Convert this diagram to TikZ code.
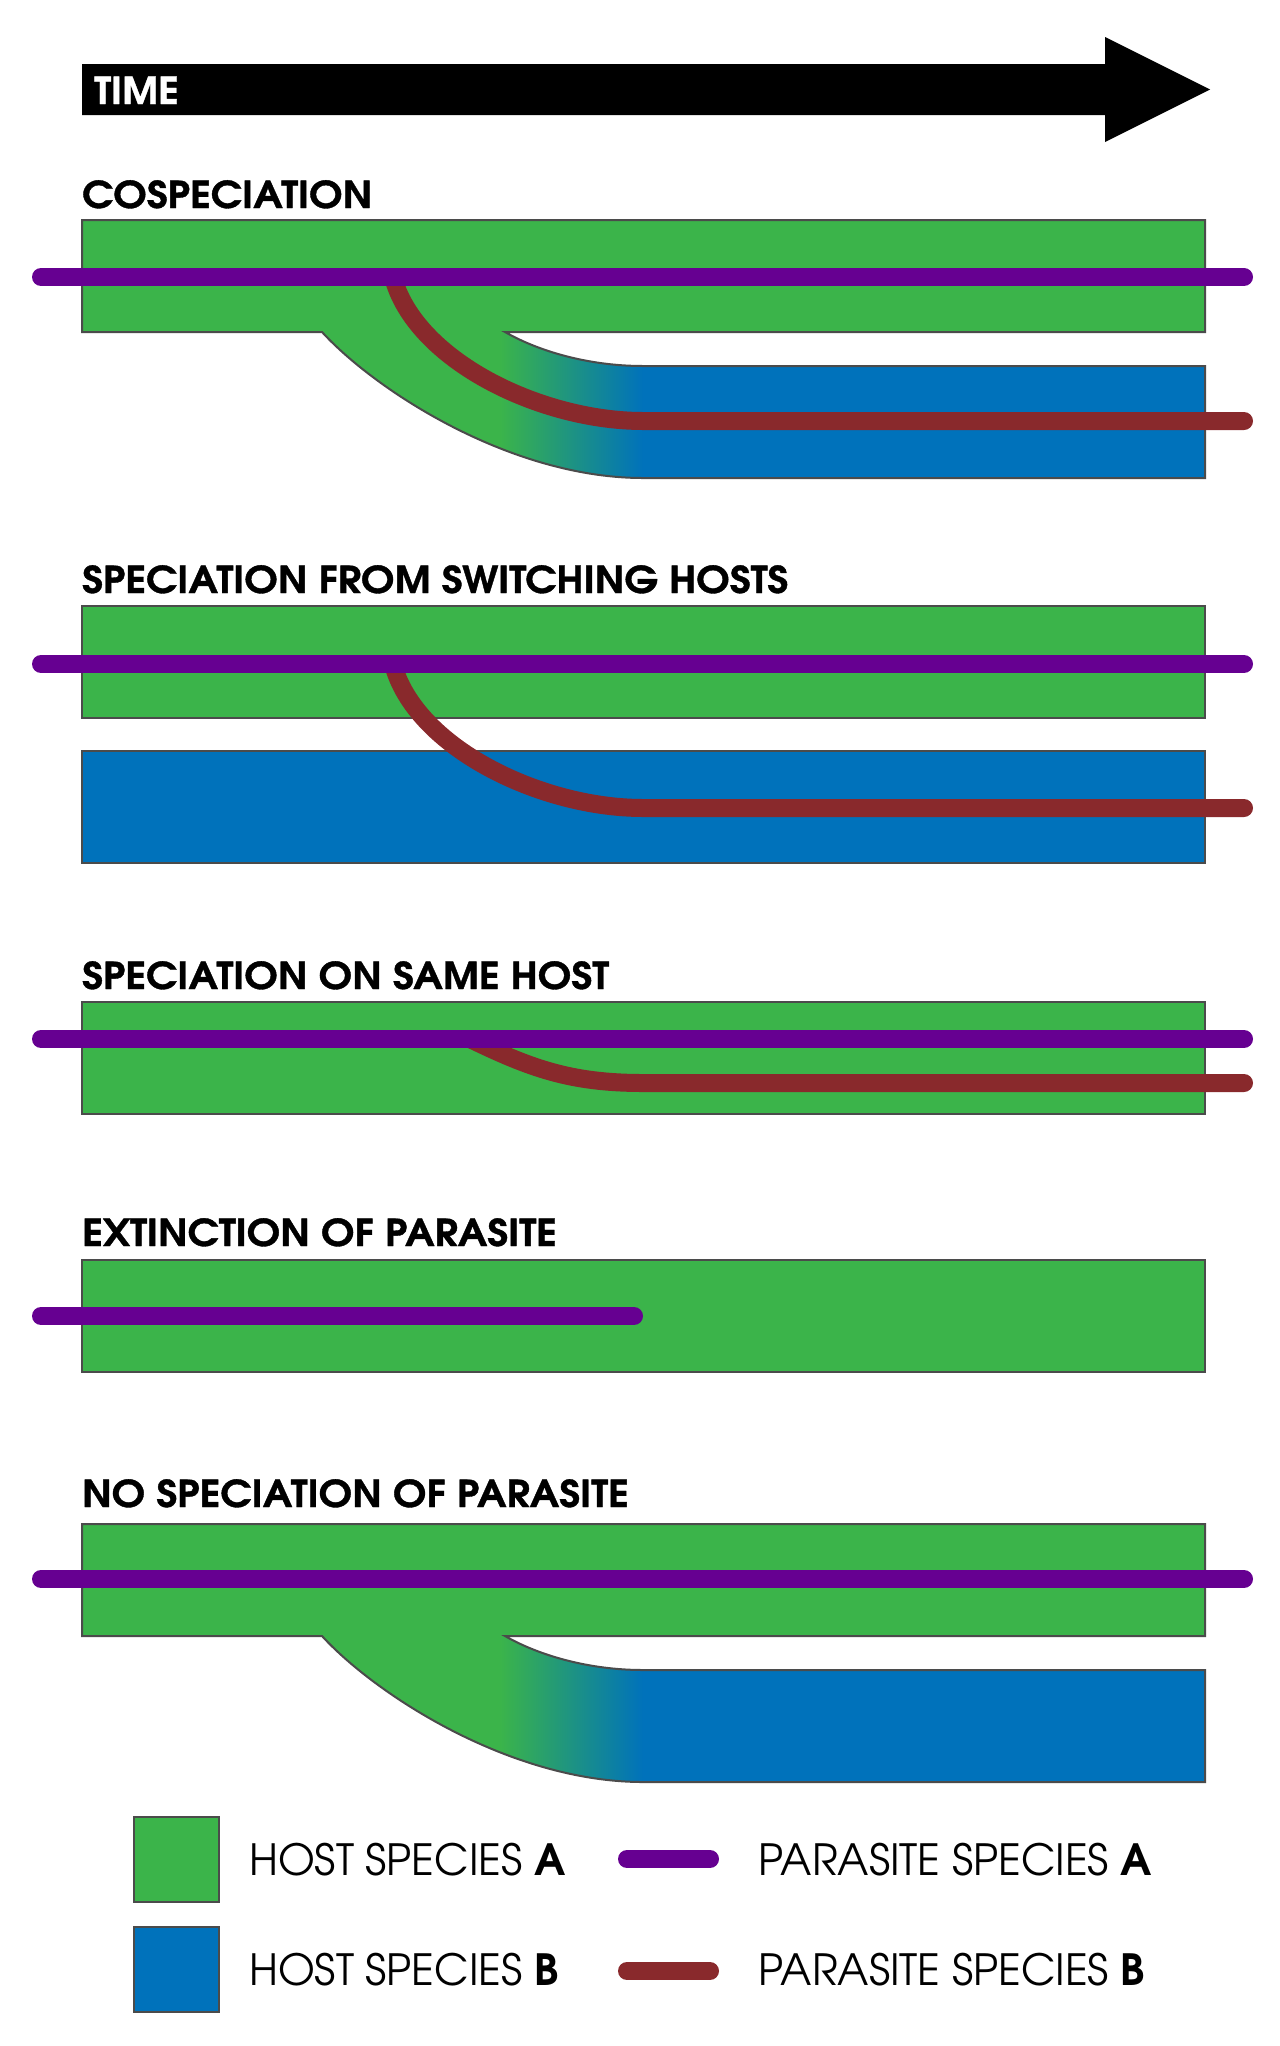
\documentclass[tikz,border=0pt]{standalone}
\usepackage{fontspec}
\setmainfont{TeX Gyre Adventor}
\newfontfamily\titlefont[FakeStretch=1.08, BoldFeatures={FakeBold=1}]{TeX Gyre Adventor}
\newfontfamily\keyfont[FakeStretch=0.985]{TeX Gyre Adventor}
\definecolor{hostA}{RGB}{59,180,74}
\definecolor{hostB}{RGB}{0,114,187}
\definecolor{paraA}{RGB}{102,0,145}
\definecolor{paraB}{RGB}{137,41,44}
\definecolor{rimgray}{RGB}{75,75,75}
\newcommand{\hostsplit}{%
    \path[save path=\splitp] (82,220) -- (1205,220) -- (1205,332) -- (505,332)
        .. controls (540,352) and (590,366) .. (643,366) -- (1205,366) -- (1205,478)
        -- (643,478) .. controls (510,478) and (375,390) .. (322,332) -- (82,332) -- cycle;
    \fill[hostA, use path=\splitp];
    \begin{scope}
        \clip (322,332) .. controls (375,390) and (510,478) .. (643,478) -- (643,366)
            .. controls (590,366) and (540,352) .. (505,332) -- cycle;
        \shade[left color=hostA, right color=hostB] (500,330) rectangle (643,480);
    \end{scope}
    \fill[hostB] (643,366) rectangle (1205,478);
    \draw[rim, use path=\splitp];
}

\begin{document}
\begin{tikzpicture}[x=1pt, y=-1pt,
    rim/.style={draw=rimgray, line width=2pt},
    title/.style={anchor=base west, inner sep=0pt, font=\fontsize{37}{37}\titlefont\bfseries},
    keytext/.style={anchor=base west, inner sep=0pt, font=\fontsize{43}{43}\keyfont},
    pA/.style={paraA, line width=18pt, line cap=round},
    pB/.style={paraB, line width=18pt, line cap=round}]
    \useasboundingbox (0,0) rectangle (1280,2046);

    \fill (82,64) -- (1105,64) -- (1105,37) -- (1210,89.5) -- (1105,142) -- (1105,115) -- (82,115) -- cycle;
    \node[title, text=white] (time) at (94,104) {TIME};

    \node[title] (cospec) at (82,208) {COSPECIATION};
    \hostsplit
    \draw[pB] (393,277) .. controls (415,360) and (540,421) .. (643,421) -- (1244,421);
    \draw[pA] (41,277) -- (1244,277);

    \node[title] (switch) at (82,593) {SPECIATION FROM SWITCHING HOSTS};
    \draw[rim, fill=hostA] (82,606) rectangle (1205,718);
    \draw[rim, fill=hostB] (82,751) rectangle (1205,863);
    \draw[pB] (393,664) .. controls (415,747) and (540,808) .. (643,808) -- (1244,808);
    \draw[pA] (41,664) -- (1244,664);

    \node[title] (samehost) at (82,989) {SPECIATION ON SAME HOST};
    \draw[rim, fill=hostA] (82,1002) rectangle (1205,1114);
    \draw[pB] (470,1039) .. controls (530,1068) and (570,1083) .. (643,1083) -- (1244,1083);
    \draw[pA] (41,1039) -- (1244,1039);

    \node[title] (extinct) at (82,1246) {EXTINCTION OF PARASITE};
    \draw[rim, fill=hostA] (82,1260) rectangle (1205,1372);
    \draw[pA] (41,1316) -- (634,1316);

    \node[title] (nospec) at (82,1507) {NO SPECIATION OF PARASITE};
    \begin{scope}[shift={(0,1304)}]
        \hostsplit
    \end{scope}
    \draw[pA] (41,1579) -- (1244,1579);

    \node[rim, fill=hostA, minimum size=85pt, inner sep=0pt] (keyA) at (176.5,1859) {};
    \node[rim, fill=hostB, minimum size=85pt, inner sep=0pt] (keyB) at (176.5,1969) {};
    \node[keytext] (hostAtxt) at (249,1875) {HOST SPECIES \textbf{A}};
    \node[keytext] (hostBtxt) at (249,1985) {HOST SPECIES \textbf{B}};
    \draw[pA] (627,1859) -- (710,1859);
    \draw[pB] (627,1971) -- (710,1971);
    \node[keytext] (paraAtxt) at (758,1875) {PARASITE SPECIES \textbf{A}};
    \node[keytext] (paraBtxt) at (758,1985) {PARASITE SPECIES \textbf{B}};
\end{tikzpicture}
\end{document}
